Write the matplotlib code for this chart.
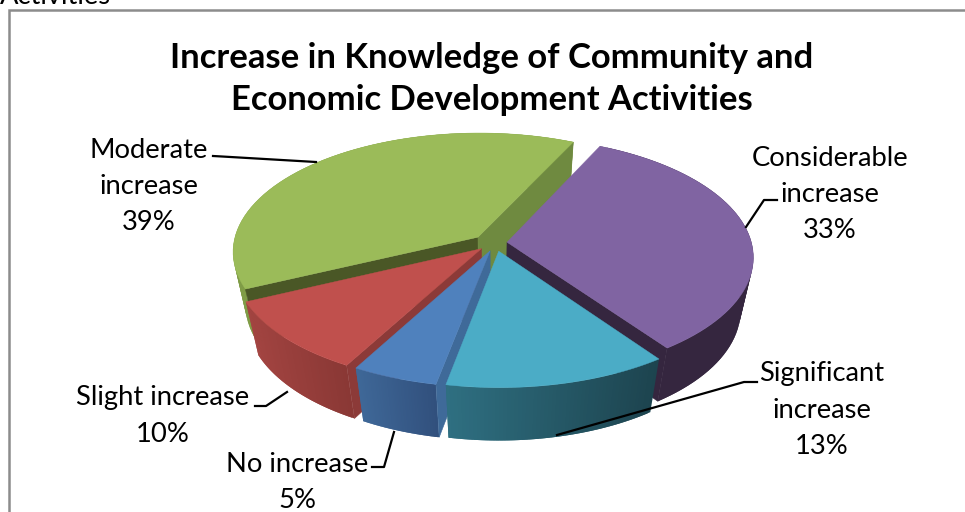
import numpy as np
import matplotlib
matplotlib.use('Agg')
import matplotlib.pyplot as plt
from matplotlib.patches import Polygon
from matplotlib.colors import to_rgb

title = 'Increase in Knowledge of Community and\nEconomic Development Activities'
categories = ['No increase', 'Slight increase', 'Moderate increase', 'Considerable increase', 'Significant increase']
values = [5, 10, 39, 33, 13]

top_colors = ['#4f81bd', '#c0504d', '#9bbb59', '#8064a2', '#4bacc6']
wall_left = ['#3f6898', '#a34441', '#7f9c46', '#35263f', '#2f7082']
wall_right = ['#31507d', '#8a3835', '#7f9c46', '#35263f', '#1d444f']
cut_start = ['#3f6a99', '#8c3a38', '#4a5726', '#35263f', '#2f7082']
cut_end = ['#3f6a99', '#8c3a38', '#6f8a40', '#35263f', '#2f7082']

plt.rcParams['font.family'] = 'Lato'

# disc projection settings, all in pixels
cx, cy = 490, 243
Rx, Ry = 244.5, 118
persp = 0.12
depth = 56
shrink = 0.05
explode = 0.07
start = 191
nudge = [6, 4, 0, 0, 5]  # sideways shift of each slice


def project(u, v, z=0.0, dx=0.0):
    w = 1 + persp * v + shrink * z
    return cx + dx + Rx * u / w, cy - Ry * v / w + depth * z / w


def lerp(c1, c2, t):
    a, b = np.array(to_rgb(c1)), np.array(to_rgb(c2))
    return tuple(a + (b - a) * t)


fig = plt.figure(figsize=(9.65, 5.12), dpi=100)
ax = fig.add_axes([0, 0, 1, 1])
ax.set_xlim(0, 965)
ax.set_ylim(512, 0)
ax.axis('off')

ax.plot([9, 9, 965], [512, 10, 10], color='#8c8c8c', lw=1.8, solid_joinstyle='miter')
ax.text(0, -3, 'Activities', fontsize=19.7, ha='left', va='center', clip_on=False)

total = sum(values)
edges = start + np.cumsum([0] + values) * 360 / total
order = [2, 3, 1, 0, 4]  # back to front
z = 2
for i in order:
    a0, a1 = edges[i], edges[i + 1]
    mid = np.radians((a0 + a1) / 2)
    ox, oy = explode * np.sin(mid), explode * np.cos(mid)
    t = np.radians(np.linspace(a0, a1, 60))
    us = ox + np.sin(t)
    vs = oy + np.cos(t)
    dx = nudge[i]

    # outer wall, split up to carry the shading from left to right
    # each strip runs on under the next so no seams show
    xs = np.array([project(a, b)[0] for a, b in zip(us, vs)])
    for j in range(len(t) - 1):
        frac = (xs[j] - xs.min()) / (xs.max() - xs.min())
        col = lerp(wall_left[i], wall_right[i], frac)
        n = min(j + 2, len(t) - 1)
        quad = [project(us[j], vs[j], 0, dx), project(us[n], vs[n], 0, dx),
                project(us[n], vs[n], 1, dx), project(us[j], vs[j], 1, dx)]
        ax.add_patch(Polygon(quad, closed=True, fc=col, ec='none', zorder=z + j * 0.001))

    # cut faces running in to the apex, only those turned towards the viewer
    for k, col, normal in ((0, cut_start[i], a0 - 90), (-1, cut_end[i], a1 + 90)):
        if np.cos(np.radians(normal)) >= 0:
            continue
        quad = [project(ox, oy, 0, dx), project(us[k], vs[k], 0, dx),
                project(us[k], vs[k], 1, dx), project(ox, oy, 1, dx)]
        ax.add_patch(Polygon(quad, closed=True, fc=col, ec=col, lw=0.4, zorder=z + 0.5))

    face = [project(ox, oy, 0, dx)] + [project(a, b, 0, dx) for a, b in zip(us, vs)]
    ax.add_patch(Polygon(face, closed=True, fc=top_colors[i], ec=top_colors[i], lw=0.3, zorder=z + 0.6))
    z += 1

ax.text(492, 79, title, fontsize=24.9, fontweight='bold', ha='center', va='center',
        linespacing=1.4, color='black', zorder=20)


def label(x, y, lines):
    for n, line in enumerate(lines):
        ax.text(x, y + n * 36, line, fontsize=19.7, ha='center', va='center', zorder=20)


label(149, 151, ['Moderate', 'increase', f'{values[2]}%'])
label(830, 158, ['Considerable', 'increase', f'{values[3]}%'])
label(822, 374, ['Significant', 'increase', f'{values[4]}%'])
label(163, 398, ['Slight increase', f'{values[1]}%'])
label(297, 465, ['No increase', f'{values[0]}%'])

leaders = [
    ([213, 222, 316], [156, 156.5, 162]),
    ([746, 764, 777], [227, 200, 200]),
    ([757, 744, 557], [382, 382, 435]),
    ([255, 266, 287], [406, 406, 392]),
    ([372, 384, 394], [467, 467, 432]),
]
for lx, ly in leaders:
    ax.plot(lx, ly, color='black', lw=1.6, zorder=19)

fig.savefig('out.png', dpi=100)
